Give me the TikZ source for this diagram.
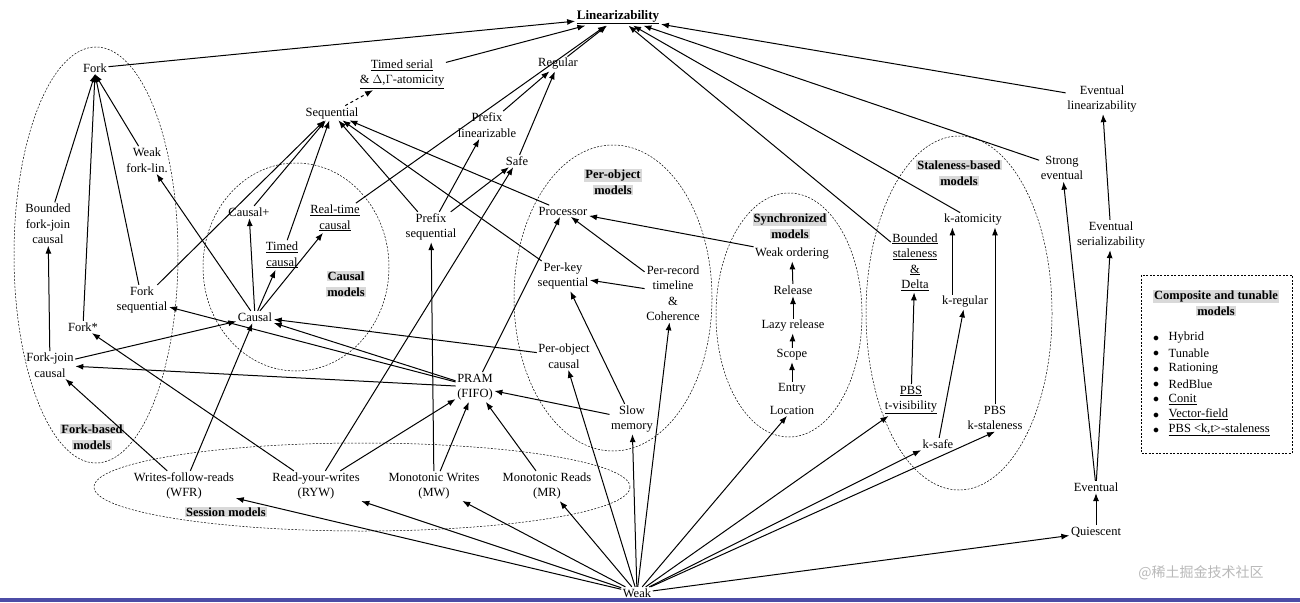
\documentclass[tikz,border=0pt]{standalone}
\usepackage{fontspec}
\setmainfont{Liberation Serif}
\newfontfamily\cjk{Noto Sans CJK SC}
\usetikzlibrary{arrows.meta}
\newcommand{\hl}[1]{{\setlength{\fboxsep}{1pt}\colorbox{gray!30}{\textbf{#1}}}}
\newcommand{\ul}[1]{\underline{#1}}
\tikzset{
  n/.style={inner sep=1.5pt, align=center, font=\fontsize{12.5}{15.5}\selectfont},
  lab/.style={inner sep=0pt, align=center, font=\fontsize{12.5}{16}\selectfont},
  a/.style={-{Latex[length=8pt,width=6pt]}, line width=1pt},
  grp/.style={line width=0.5pt, dash pattern=on 2pt off 1.5pt},
}
\begin{document}
\begin{tikzpicture}[x=1pt,y=-1pt]
\useasboundingbox (0,0) rectangle (1300,602);
\fill[white] (0,0) rectangle (1300,602);
\fill[blue!50!black!70] (0,598) rectangle (1300,602);
% groups
\draw[grp] (96,255) ellipse [x radius=82, y radius=208];
\draw[grp] (296,267) ellipse [x radius=93, y radius=104];
\draw[grp] (362,487) ellipse [x radius=268, y radius=44];
\draw[grp] (613,298) ellipse [x radius=99, y radius=153];
\draw[grp] (789,315) ellipse [x radius=73, y radius=122];
\draw[grp] (959,313) ellipse [x radius=93, y radius=177];
\draw[grp] (1141,275) rectangle (1292,453);
% labels
\node[lab] (lfork) at (92,437) {\hl{Fork-based}\\\hl{models}};
\node[lab] (lcaus) at (346,284) {\hl{Causal}\\\hl{models}};
\node[lab] (lsess) at (226,512) {\hl{Session models}};
\node[lab] (lpo) at (613,182) {\hl{Per-object}\\\hl{models}};
\node[lab] (lsync) at (790,226) {\hl{Synchronized}\\\hl{models}};
\node[lab] (lstale) at (959,173) {\hl{Staleness-based}\\\hl{models}};
\node[lab] (lcomp) at (1216,303) {\hl{Composite and tunable}\\\hl{models}};
% composite items
\foreach \t [count=\i] in {Hybrid,Tunable,Rationing,RedBlue,\ul{Conit},\ul{Vector-field},\ul{PBS <k,t>-staleness}}{
  \node[n, anchor=west] (ci\i) at (1167,{338+15.3*(\i-1)}) {\t};
  \node[inner sep=0pt, font=\large] (cb\i) at (1156,{339+15.3*(\i-1)}) {$\bullet$};
}
% nodes
\node[n, font=\bfseries\fontsize{13}{15}\selectfont] (lin) at (618,17) {\ul{Linearizability}};
\node[n] (fork) at (95,68) {Fork};
\node[n] (tser) at (402,74) {\ul{Timed serial}\\\ul{\& $\Delta$,$\Gamma$-atomicity}};
\node[n] (reg) at (558,64) {Regular};
\node[n] (seq) at (332,113) {Sequential};
\node[n] (plin) at (487,125) {Prefix\\linearizable};
\node[n] (wfl) at (147,160) {Weak\\fork-lin.};
\node[n] (safe) at (517,161) {Safe};
\node[n] (proc) at (563,211) {Processor};
\node[n] (bfj) at (48,224) {Bounded\\fork-join\\causal};
\node[n] (cplus) at (249,212) {Causal+};
\node[n] (rtc) at (335,218) {\ul{Real-time}\\\ul{causal}};
\node[n] (pseq) at (431,227) {Prefix\\sequential};
\node[n] (tc) at (282,255) {\ul{Timed}\\\ul{causal}};
\node[n] (fseq) at (142,300) {Fork\\sequential};
\node[n] (caus) at (255,317) {Causal};
\node[n] (forks) at (83,327) {Fork*};
\node[n] (fjc) at (50,365) {Fork-join\\causal};
\node[n] (pks) at (563,276) {Per-key\\sequential};
\node[n] (prt) at (673,293) {Per-record\\timeline\\\&\\Coherence};
\node[n] (poc) at (564,356) {Per-object\\causal};
\node[n] (pram) at (475,387) {PRAM\\(FIFO)};
\node[n] (slow) at (632,419) {Slow\\memory};
\node[n] (wfr) at (184,486) {Writes-follow-reads\\(WFR)};
\node[n] (ryw) at (316,486) {Read-your-writes\\(RYW)};
\node[n] (mw) at (434,486) {Monotonic Writes\\(MW)};
\node[n] (mr) at (547,486) {Monotonic Reads\\(MR)};
\node[n] (weak) at (637,593) {Weak};
\node[n] (wo) at (792,254) {Weak ordering};
\node[n] (rel) at (793,290) {Release};
\node[n] (lrel) at (793,326) {Lazy release};
\node[n] (scope) at (792,355) {Scope};
\node[n] (entry) at (792,389) {Entry};
\node[n] (loc) at (792,410) {Location};
\node[n] (kat) at (973,220) {k-atomicity};
\node[n] (bsd) at (915,262) {\ul{Bounded}\\\ul{staleness}\\\ul{\&}\\\ul{Delta}};
\node[n] (kreg) at (965,302) {k-regular};
\node[n] (pbst) at (911,400) {\ul{PBS}\\\ul{t-visibility}};
\node[n] (ksafe) at (938,444) {k-safe};
\node[n] (pbsk) at (995,418) {PBS\\k-staleness};
\node[n] (elin) at (1102,99) {Eventual\\linearizability};
\node[n] (sev) at (1062,168) {Strong\\eventual};
\node[n] (eser) at (1111,235) {Eventual\\serializability};
\node[n] (ev) at (1096,487) {Eventual};
\node[n] (qui) at (1096,532) {Quiescent};
\node[n, text=gray!55, font=\cjk\fontsize{14}{16}\selectfont] (wm) at (1201,573) {@稀土掘金技术社区};
% edges
\foreach \s in {fork,tser,reg,rtc,elin,sev,kat,bsd} \draw[a] (\s) -- (lin);
\draw[a, dashed] (seq) -- (tser);
\draw[a] (plin) -- (reg);
\draw[a] (safe) -- (reg);
\draw[a] (pseq) -- (plin);
\draw[a] (pseq) -- (safe);
\draw[a] (ryw) -- (safe);
\foreach \s in {pseq,cplus,tc,proc,pks,fseq} \draw[a] (\s) -- (seq);
\foreach \s in {wfl,bfj,forks,fseq} \draw[a] (\s) -- (fork.south);
\draw[a] (fjc) -- (bfj);
\draw[a] (caus) -- (wfl);
\draw[a] (caus) -- (cplus);
\draw[a] (caus) -- (tc);
\draw[a] (caus) -- (rtc);
\draw[a] (mw) -- (pseq);
\draw[a] (pram) -- (proc);
\draw[a] (pram) -- (fseq);
\draw[a] (fjc) -- (caus);
\draw[a] (pram) -- (caus);
\draw[a] (poc) -- (caus);
\draw[a] (wfr) -- (caus);
\draw[a] (ryw) -- (forks);
\draw[a] (pram) -- (fjc);
\draw[a] (wfr) -- (fjc);
\foreach \s in {ryw,mw,mr,slow} \draw[a] (\s) -- (pram);
\draw[a] (prt) -- (proc);
\draw[a] (prt) -- (pks);
\draw[a] (slow) -- (pks);
\draw[a] (wo) -- (proc);
\draw[a] (entry) -- (scope);
\draw[a] (scope) -- (lrel);
\draw[a] (lrel) -- (rel);
\draw[a] (rel) -- (wo);
\draw[a] (pbst) -- (bsd);
\draw[a] (ksafe) -- (kreg);
\draw[a] (kreg.north west) ++(12,0) coordinate (kr) -- (kr |- kat.south);
\draw[a] (pbsk.north) -- (pbsk.north |- kat.south);
\draw[a] (ev) -- (sev);
\draw[a] (ev) -- (eser);
\draw[a] (eser) -- (elin);
\draw[a] (qui) -- (ev);
\foreach \t in {wfr,ryw,mw,mr,poc,slow,prt,loc,pbst,qui} \draw[a] (weak) -- (\t);
\draw[a] (weak) -- (ksafe.south west);
\draw[a] (weak) -- (pbsk.south);
\end{tikzpicture}
\end{document}
